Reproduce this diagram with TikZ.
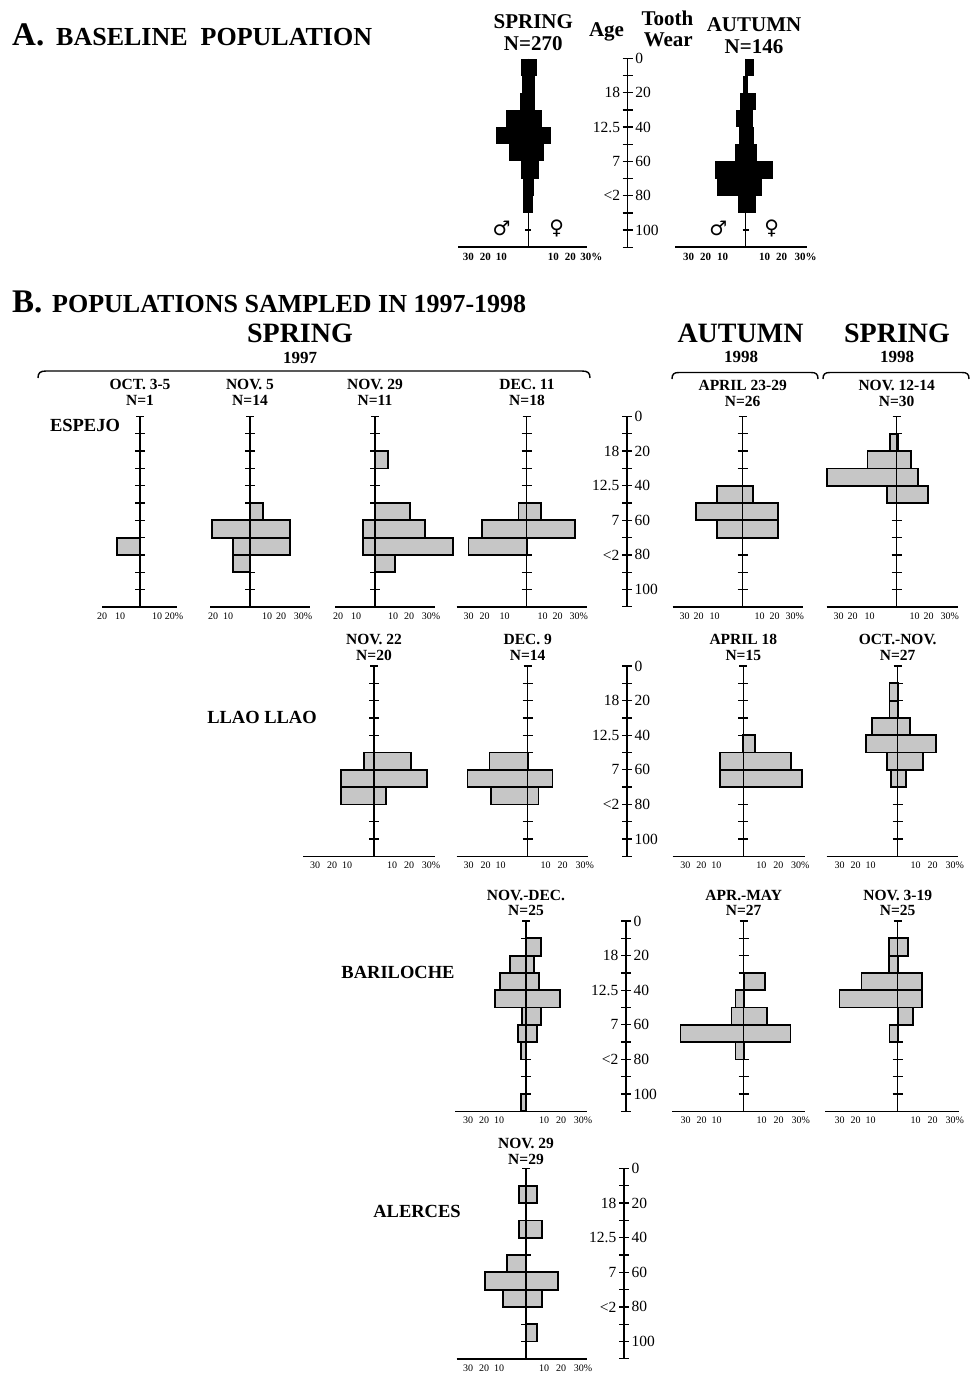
\documentclass[tikz,border=0pt]{standalone}
\usepackage{fontspec}
\setmainfont{Liberation Serif}
\newfontfamily\symf{DejaVu Sans}
\tikzset{
 axst/.style={line width=1.3pt},
 xaxst/.style={line width=1.5pt},
 barst/.style={fill=gray!45, draw=black, line width=1.8pt},
 brst/.style={line width=1.4pt},
 pct/.style={font=\fontsize{10}{10}\selectfont, inner sep=0pt},
 pctA/.style={font=\fontsize{11}{11}\selectfont\bfseries, inner sep=0pt},
 agel/.style={font=\fontsize{15.5}{15.5}\selectfont, inner sep=0pt},
 colhd/.style={font=\fontsize{15.5}{15.5}\selectfont\bfseries, inner sep=0pt, anchor=base},
 rowlab/.style={font=\fontsize{18.5}{18.5}\selectfont\bfseries, inner sep=0pt, anchor=base},
 seasB/.style={font=\fontsize{28}{28}\selectfont\bfseries, inner sep=0pt, anchor=base},
 yearB/.style={font=\fontsize{17}{17}\selectfont\bfseries, inner sep=0pt, anchor=base},
 hdA/.style={font=\fontsize{21}{21}\selectfont\bfseries, inner sep=0pt, anchor=base},
 sym/.style={font=\symf\bfseries\fontsize{20}{20}\selectfont, inner sep=0pt},
 ttl/.style={font=\fontsize{26}{26}\selectfont\bfseries, inner sep=0pt, anchor=base west},
 ttlL/.style={font=\fontsize{33}{33}\selectfont\bfseries, inner sep=0pt, anchor=base west},
}
% B histogram: cx, y0, xl, xr, bars, labels, prefix
\newcommand{\Hst}[7]{%
 \begin{scope}[shift={(#1,#2)}]
  \foreach \lv/\av/\bv in {#5}{\filldraw[barst] (\av,\lv*1.73) rectangle (\bv,\lv*1.73+17.3);}
  \draw[axst] (0,0) -- (0,190.3);
  \draw[axst] (-4,0) -- (4,0);
  \foreach \k in {1,...,10}{\draw[axst] (-5,\k*17.3) -- (5,\k*17.3);}
  \draw[xaxst] (#3,190.3) -- (#4,190.3);
  \foreach \pv/\tx [count=\i] in {#6}{\node[pct] (#7-\i) at (\pv,199.5) {\tx};}
 \end{scope}}
% A histogram: cx, xl, xr, bars, labels, prefix
\newcommand{\HstA}[6]{%
 \begin{scope}[shift={(#1,58.5)}]
  \draw[axst] (0,0) -- (0,188.65);
  \foreach \lv/\av/\bv in {#4}{\fill (\av,\lv*1.715) rectangle (\bv,\lv*1.715+17.15);}
  \draw[axst] (-3,171.5) -- (3,171.5);
  \draw[xaxst] (#2,188.65) -- (#3,188.65);
  \foreach \pv/\tx [count=\i] in {#5}{\node[pctA] (#6-\i) at (\pv,198.5) {\tx};}
 \end{scope}}
% age axis: x, y0, unit, prefix
\newcommand{\AgeAx}[4]{%
 \begin{scope}[shift={(#1,#2)}]
  \draw[axst] (0,0) -- (0,110*#3);
  \draw[axst] (-5,0) -- (5,0);
  \draw[axst] (-5,110*#3) -- (5,110*#3);
  \foreach \k in {1,...,10}{\draw[axst] (-5,\k*10*#3) -- (5,\k*10*#3);}
  \foreach \k/\tx [count=\i] in {20/18,40/12.5,60/7,80/<2}{\node[agel,anchor=east] (#4-l\i) at (-7.5,\k*#3) {\tx};}
  \foreach \k [count=\i] in {0,20,40,60,80,100}{\node[agel,anchor=west] (#4-r\i) at (7.5,\k*#3) {\k};}
 \end{scope}}
\newcommand{\Hdr}[6]{%
 \node[colhd] (#6a) at (#1,#2) {#4};
 \node[colhd] (#6b) at (#1,#3) {#5};}
\begin{document}
\begin{tikzpicture}[x=1pt,y=-1pt]
\useasboundingbox (0,0) rectangle (972,1373);
\fill[white] (0,0) rectangle (972,1373);
% ---------- A ----------
\node[ttlL] (Alet) at (12,45) {A.};
\node[ttl] (Attl) at (56,45) {BASELINE\ \ POPULATION};
\node[hdA] (Asp) at (533.3,28.3) {SPRING};
\node[hdA] (Asn) at (533.3,50) {N=270};
\node[hdA] (Aage) at (606.5,36.7) {Age};
\node[hdA] (Atooth) at (667.5,25) {Tooth};
\node[hdA] (Awear) at (668.3,46.7) {Wear};
\node[hdA] (Aau) at (754,31.7) {AUTUMN};
\node[hdA] (Aan) at (754,53.3) {N=146};
\AgeAx{627.7}{58.5}{1.715}{ageA}
\HstA{528.3}{-70}{58.4}{0/-7.3/8.3,10/-6/7,20/-8.3/6.7,30/-22.7/13.3,40/-32.3/22.7,50/-19.3/16,60/-7.3/10.7,70/-5.7/5.7,80/-5/4.3}{-60/30,-43/20,-27/10,25/10,42/20,63/30\%}{spA}
\HstA{745.7}{-70.7}{61}{0/-0.7/8.3,10/-3/2.7,20/-6/10.3,30/-9.3/7,40/-7/8,50/-10.3/11.3,60/-30.7/27.7,70/-28.3/16,80/-7.7/10.3}{-57/30,-40/20,-23/10,19/10,36/20,60/30\%}{auA}
\node[sym] (m1) at (501.7,228) {♂};
\node[sym] (f1) at (556.7,228) {♀};
\node[sym] (m2) at (718.3,228) {♂};
\node[sym] (f2) at (771.7,228) {♀};
% ---------- B ----------
\node[ttlL] (Blet) at (12,312) {B.};
\node[ttl] (Bttl) at (52,312) {POPULATIONS SAMPLED IN 1997-1998};
\node[seasB] (s97) at (300,342.5) {SPRING};
\node[yearB] (y97) at (300,363) {1997};
\node[seasB] (a98) at (740.5,342.5) {AUTUMN};
\node[yearB] (ya98) at (741,362) {1998};
\node[seasB] (s98) at (897,342.5) {SPRING};
\node[yearB] (ys98) at (897,362) {1998};
\draw[brst] (38,378) .. controls (38,373) and (40,371) .. (46,371) -- (582,371) .. controls (588,371) and (590,373) .. (590,378);
\draw[brst] (672,379) .. controls (672,374) and (674,372.5) .. (679,372.5) -- (811,372.5) .. controls (816,372.5) and (818,374) .. (818,379);
\draw[brst] (823,379) .. controls (823,374) and (825,372.5) .. (830,372.5) -- (962,372.5) .. controls (967,372.5) and (969,374) .. (969,379);
% row labels
\node[rowlab] (espejo) at (85,431) {ESPEJO};
\node[rowlab] (llao) at (262,723) {LLAO LLAO};
\node[rowlab] (bari) at (398,978) {BARILOCHE};
\node[rowlab] (alerces) at (417,1217) {ALERCES};
% row 1
\Hdr{140}{389}{405}{OCT. 3-5}{N=1}{h11}
\Hdr{250}{389}{405}{NOV. 5}{N=14}{h12}
\Hdr{375}{389}{405}{NOV. 29}{N=11}{h13}
\Hdr{527}{389}{405}{DEC. 11}{N=18}{h14}
\Hdr{742.7}{390}{406}{APRIL 23-29}{N=26}{h15}
\Hdr{896.7}{390}{406}{NOV. 12-14}{N=30}{h16}
\Hst{140}{416.5}{-38}{37}{70/-23.3/0}{-38/20,-20/10,17/10,34/20\%}{p11}
\Hst{250}{416.5}{-40}{60}{50/0/12.7,60/-37.7/40,70/-16.7/40,80/-16.7/0}{-37/20,-22/10,17/10,31/20,53/30\%}{p12}
\Hst{375}{416.5}{-40}{60}{20/0/13.3,50/0/35,60/-11.7/50,70/-11.7/78.3,80/0/20}{-37/20,-19/10,18/10,34/20,56/30\%}{p13}
\Hst{526.7}{416.5}{-70}{60}{50/-8.3/14.3,60/-45/48.3,70/-58.3/0}{-58/30,-42/20,-22/10,16/10,31/20,52/30\%}{p14}
\AgeAx{627}{416.5}{1.73}{age1}
\Hst{742.7}{416.5}{-70}{60}{40/-26/10,50/-46.7/35.6,60/-26/35.6}{-58/30,-44/20,-28/10,17/10,32/20,52/30\%}{p15}
\Hst{896.7}{416.5}{-70}{61.6}{10/-6.7/1,20/-29.3/14,30/-70/21.6,40/-10/31.6}{-58/30,-44/20,-27/10,18/10,32/20,53/30\%}{p16}
% row 2
\Hdr{374}{644}{660}{NOV. 22}{N=20}{h22}
\Hdr{527.7}{644}{660}{DEC. 9}{N=14}{h23}
\Hdr{743.3}{644}{660}{APRIL 18}{N=15}{h25}
\Hdr{897.7}{644}{660}{OCT.-NOV.}{N=27}{h26}
\Hst{374}{666}{-70.7}{61}{50/-10/37,60/-33.3/52.7,70/-33.3/12}{-59/30,-42/20,-27/10,18/10,35/20,57/30\%}{p22}
\Hst{527.7}{666}{-71}{60.7}{50/-38.3/0,60/-60.3/24.7,70/-36.7/10.7}{-59/30,-42/20,-27/10,18/10,35/20,57/30\%}{p23}
\AgeAx{627}{666}{1.73}{age2}
\Hst{743.3}{666}{-70.6}{62}{40/0/11.7,50/-23.3/47.3,60/-23.3/58.3}{-58/30,-42/20,-27/10,18/10,35/20,57/30\%}{p25}
\Hst{897.7}{666}{-71}{60.6}{10/-8.3/0,20/-8.3/0,30/-26/12.3,40/-32/38.3,50/-11/25,60/-6.7/8.3}{-58/30,-42/20,-27/10,18/10,35/20,57/30\%}{p26}
% row 3
\Hdr{526}{900}{915}{NOV.-DEC.}{N=25}{h33}
\Hdr{743.7}{900}{915}{APR.-MAY}{N=27}{h35}
\Hdr{897.7}{900}{915}{NOV. 3-19}{N=25}{h36}
\Hst{526}{921}{-70.7}{61}{10/0/15.3,20/-16.3/8.3,30/-25.7/13.3,40/-31.3/33.7,50/-4/15.3,60/-8/11,70/-5/0,100/-5/0}{-58/30,-42/20,-27/10,18/10,35/20,57/30\%}{p33}
\AgeAx{626}{921}{1.73}{age3}
\Hst{743.7}{921}{-71.7}{61.6}{30/0/21,40/-8.3/0,50/-12.3/23.3,60/-63.3/46.7,70/-8.3/0}{-58/30,-42/20,-27/10,18/10,35/20,57/30\%}{p35}
\Hst{897.7}{921}{-72.4}{61}{10/-9/10,20/-9/0,30/-36.3/24.3,40/-58.3/24.3,50/0/15,60/-8.3/0}{-58/30,-42/20,-27/10,18/10,35/20,57/30\%}{p36}
% row 4
\Hdr{526}{1148}{1164}{NOV. 29}{N=29}{h43}
\Hst{526}{1168.5}{-69.3}{60.7}{10/-6.7/11.3,30/-6.7/15.7,50/-18.7/0,60/-41/32.3,70/-22.7/16.3,90/0/11.3}{-58/30,-42/20,-27/10,18/10,35/20,57/30\%}{p43}
\AgeAx{624}{1168.5}{1.73}{age4}
\end{tikzpicture}
\end{document}
